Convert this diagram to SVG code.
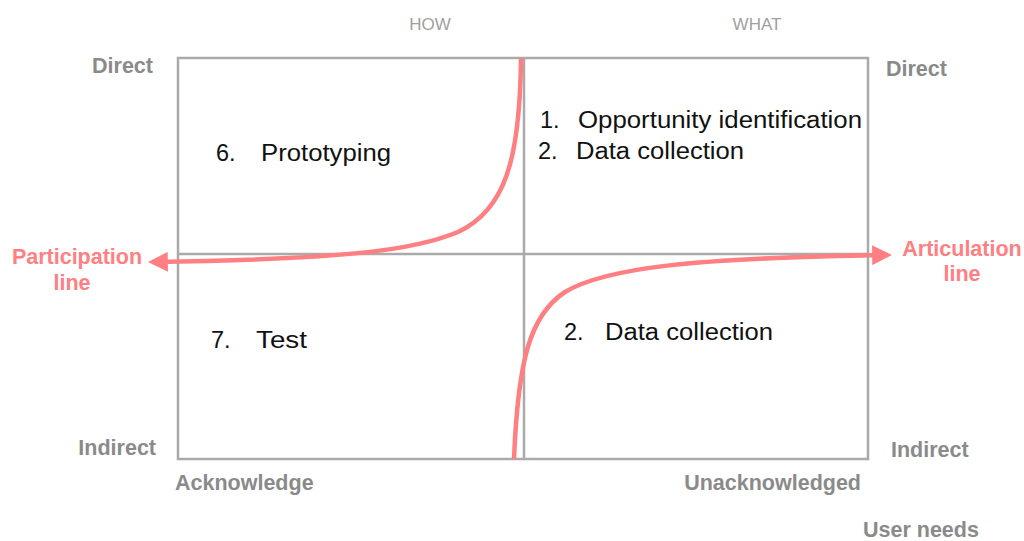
<svg xmlns="http://www.w3.org/2000/svg" width="1024" height="541" viewBox="0 0 1024 541">
<defs>
<style>
.ax{font-family:"Liberation Sans",Arial,sans-serif;font-weight:bold;font-size:21.5px;fill:#8a8a8a}
.hd{font-family:"Liberation Sans",Arial,sans-serif;font-size:17px;fill:#a0a0a0}
.rd{font-family:"Liberation Sans",Arial,sans-serif;font-weight:bold;font-size:21.5px;fill:#ff7f82}
.tx{font-family:"Liberation Sans",Arial,sans-serif;font-size:23.5px;fill:#111}
.grid{stroke:#aaaaaa;stroke-width:2.5;fill:none}
.curve{stroke:#ff7f82;stroke-width:4.5;fill:none}
</style>
<marker id="ah" viewBox="0 0 10 10" refX="8" refY="5" markerWidth="4.8" markerHeight="4.4" orient="auto" markerUnits="strokeWidth">
<path d="M0,0 L10,5 L0,10 z" fill="#ff7f82"/>
</marker>
</defs>
<rect width="1024" height="541" fill="#fff"/>
<g id="grid">
<rect class="grid" x="178" y="58" width="690" height="401"/>
<line class="grid" x1="524" y1="58" x2="524" y2="459"/>
<line class="grid" x1="178" y1="254" x2="868" y2="254"/>
</g>
<g id="connectors">
<path class="curve" d="M521,58 C520,160 505,210 458,232 C415,250 350,259 152,262" marker-end="url(#ah)"/>
<path class="curve" d="M514,459 C518,360 530,315 565,292 C605,268 690,258 888,255" marker-end="url(#ah)"/>
</g>
<g id="labels">
<text class="hd" x="430" y="30" text-anchor="middle">HOW</text>
<text class="hd" x="757" y="30" text-anchor="middle">WHAT</text>
<text class="ax" x="153" y="73" text-anchor="end">Direct</text>
<text class="ax" x="886" y="76">Direct</text>
<text class="ax" x="156" y="455" text-anchor="end">Indirect</text>
<text class="ax" x="891" y="457">Indirect</text>
<text class="ax" x="175" y="490">Acknowledge</text>
<text class="ax" x="861" y="490" text-anchor="end">Unacknowledged</text>
<text class="ax" x="863" y="537">User needs</text>
<text class="rd" x="77" y="264" text-anchor="middle">Participation</text>
<text class="rd" x="72" y="290" text-anchor="middle">line</text>
<text class="rd" x="962" y="256" text-anchor="middle">Articulation</text>
<text class="rd" x="962" y="281" text-anchor="middle">line</text>
</g>
<g id="q1">
<text class="tx" x="216" y="161">6.</text>
<text class="tx" x="261" y="161" textLength="130" lengthAdjust="spacingAndGlyphs">Prototyping</text>
</g>
<g id="q2">
<text class="tx" x="540" y="128">1.</text>
<text class="tx" x="578" y="128" textLength="284" lengthAdjust="spacingAndGlyphs">Opportunity identification</text>
<text class="tx" x="538" y="159">2.</text>
<text class="tx" x="576" y="159" textLength="168" lengthAdjust="spacingAndGlyphs">Data collection</text>
</g>
<g id="q3">
<text class="tx" x="211" y="348">7.</text>
<text class="tx" x="256" y="348" textLength="51" lengthAdjust="spacingAndGlyphs">Test</text>
</g>
<g id="q4">
<text class="tx" x="564" y="340">2.</text>
<text class="tx" x="605" y="340" textLength="168" lengthAdjust="spacingAndGlyphs">Data collection</text>
</g>
</svg>
